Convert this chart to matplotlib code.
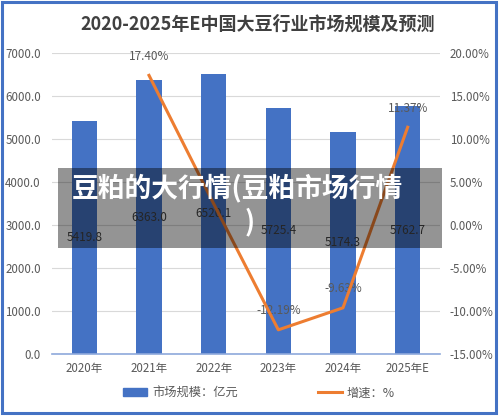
import numpy as np
import matplotlib.pyplot as plt
from matplotlib.patches import Rectangle
from matplotlib.lines import Line2D

plt.rcParams['font.family'] = ['Noto Sans CJK SC', 'DejaVu Sans']

years = ['2020年', '2021年', '2022年', '2023年', '2024年', '2025年E']
market_size = [5419.8, 6363.0, 6520.1, 5725.4, 5174.3, 5762.7]
growth = [np.nan, 17.40, 2.47, -12.19, -9.63, 11.37]
# the 2022 growth label is hidden by the banner in the reference
growth_labels = ['', '17.40%', '', '-12.19%', '-9.63%', '11.37%']

bar_color = '#4472C4'
line_color = '#ED7D31'
text_color = '#595959'

W, H = 500, 418
fig = plt.figure(figsize=(5, 4.18), dpi=100)
ax = fig.add_axes([52 / W, 1 - 354 / H, (440 - 52) / W, (354 - 53) / H])
ax2 = ax.twinx()

x = np.arange(len(years))
ax.bar(x, market_size, width=0.39, color=bar_color, zorder=2)
for xi, v in zip(x, market_size):
    ax.text(xi, v / 2, f'{v:.1f}', ha='center', va='center', fontsize=8.5, color='#404040', zorder=3)

ax.set_xlim(-0.5, len(years) - 0.5)
ax.set_ylim(0, 7000)
ax.set_yticks(np.arange(0, 7001, 1000))
ax.set_yticklabels([f'{t:.1f}' for t in np.arange(0, 7001, 1000)])
ax.set_xticks(x)
ax.set_xticklabels(years)
ax.grid(axis='y', color='#D9D9D9', linewidth=0.8, zorder=0)
ax.set_axisbelow(True)
ax.tick_params(length=0, labelsize=8.3, labelcolor=text_color, pad=8)
ax.tick_params(axis='x', pad=6)
for s in ax.spines.values():
    s.set_visible(False)
ax.spines['bottom'].set_visible(True)
ax.spines['bottom'].set_color('#8EA9DB')
ax.spines['bottom'].set_linewidth(1.2)

ax2.plot(x, growth, color=line_color, linewidth=2.2, zorder=4)
for xi, g, lab in zip(x, growth, growth_labels):
    if lab:
        ax2.text(xi, g + 2.2, lab, ha='center', va='center', fontsize=8.5, color=text_color)
ax2.set_ylim(-15, 20)
ax2.set_yticks(np.arange(-15, 21, 5))
ax2.set_yticklabels([f'{t:.2f}%' for t in np.arange(-15, 21, 5)])
ax2.tick_params(length=0, labelsize=8.3, labelcolor=text_color, pad=7)
for s in ax2.spines.values():
    s.set_visible(False)

fig.text(258 / W, 1 - 24 / H, '2020-2025年E中国大豆行业市场规模及预测', ha='center', va='center',
         fontsize=13, fontweight='bold', color='#404040')

handles = [Rectangle((0, 0), 1, 1, color=bar_color),
           Line2D([0], [0], color=line_color, linewidth=2.2)]
fig.legend(handles, ['市场规模：亿元', '增速：%'], loc='center', bbox_to_anchor=(259 / W, 1 - 393 / H),
           ncol=2, frameon=False, fontsize=8.8, labelcolor=text_color, columnspacing=6.5,
           handlelength=2.0, handleheight=0.6, handletextpad=0.4)

# outer frame
fig.patches.append(Rectangle((2 / W, 1 - 413 / H), 494 / W, 411 / H, transform=fig.transFigure,
                             fill=False, edgecolor='#4472C4', linewidth=2.2))

# overlay banner
fig.patches.append(Rectangle((58 / W, 1 - 248 / H), 384 / W, 80 / H, transform=fig.transFigure,
                             facecolor='black', alpha=0.42, edgecolor='none', zorder=10))
fig.text(72 / W, 1 - 188 / H, '豆粕的大行情(豆粕市场行情', ha='left', va='center', fontsize=19.3,
         fontweight='bold', color='white', zorder=11)
fig.text(245 / W, 1 - 222 / H, ')', ha='left', va='center', fontsize=19.3,
         fontweight='bold', color='white', zorder=11)

fig.savefig('out.png', dpi=100)
